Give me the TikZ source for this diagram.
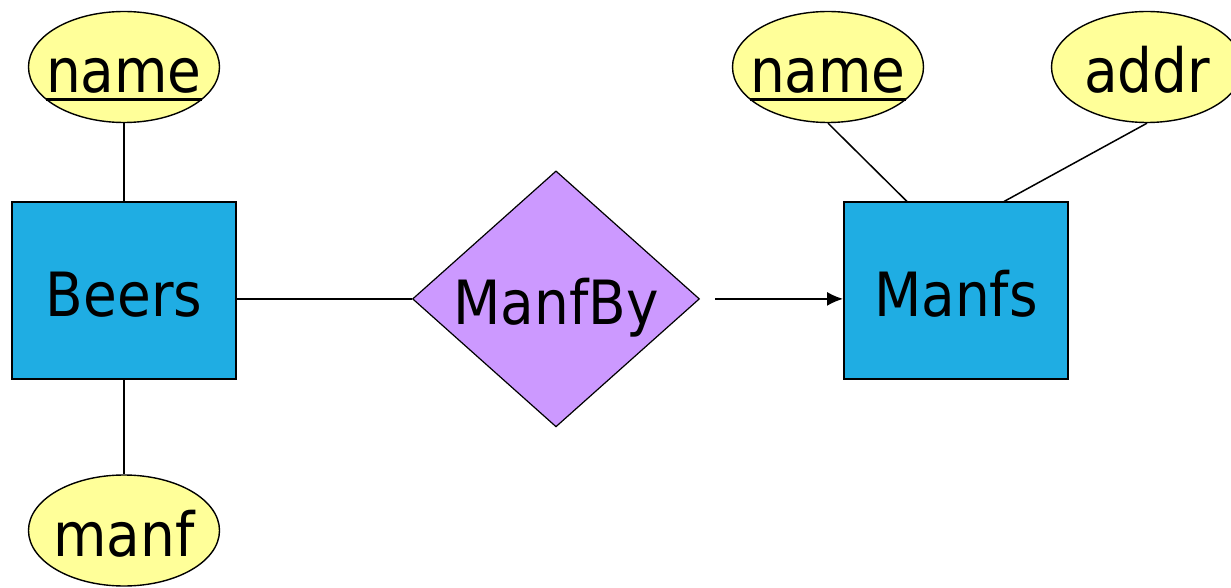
\documentclass[tikz,border=0pt]{standalone}
\usepackage{fontspec}
\setmainfont{DejaVu Sans Condensed}
\usepackage{tikz}
\usetikzlibrary{arrows,arrows.meta,calc,positioning,shapes.geometric}
\definecolor{entblue}{RGB}{31,173,227}
\definecolor{relpurple}{RGB}{204,153,255}
\definecolor{attyellow}{RGB}{255,255,153}
\newcommand{\pkey}[1]{\setbox0\hbox{#1}\rlap{\rule[-4pt]{\wd0}{1.5pt}}\box0}
\tikzstyle{ent}=[draw,line width=1pt,fill=entblue,minimum width=112pt,minimum height=88pt,inner sep=0pt,text height=28pt,text depth=2.3pt,font=\fontsize{30.5}{36}\selectfont]
\tikzstyle{rel}=[draw,diamond,aspect=1.12,line width=0.6pt,fill=relpurple,minimum width=143.5pt,minimum height=128pt,inner sep=0pt,text height=28pt,text depth=2.3pt,font=\fontsize{30.5}{36}\selectfont]
\tikzstyle{att}=[draw,ellipse,line width=0.7pt,fill=attyellow,minimum width=95.5pt,minimum height=55.5pt,inner xsep=-6pt,inner ysep=0pt,text height=28pt,text depth=2.3pt,font=\fontsize{30.5}{36}\selectfont]
\begin{document}
\begin{tikzpicture}[
      >={Latex[length=8pt,width=7pt]},
      line width=0.75pt
    ]
     \useasboundingbox (0,0) rectangle (615.5pt,-294pt);

     \node [ent] (e1) at (62pt,-145.25pt) {Beers};
     \node [rel] (r1) [node distance=216pt,right of=e1,yshift=-4.2pt] {ManfBy};
     \node [ent] (e2) [node distance=416pt,right of=e1] {Manfs};
     \node [att] (a1) [node distance=111.75pt,above of=e1] {\pkey{name}};
     \node [att] (a2) [node distance=120pt,below of=e1] {manf};
     \node [att] (a3) [node distance=352pt,right of=a1] {\pkey{name}};
     \node [att] (a4) [node distance=159.5pt,right of=a3] {addr};

      \draw (a1) -- (e1);
      \draw (e1) -- (a2);
      \draw (r1 -| e1.east) -- (r1.west);
      \draw[->,shorten <=7.5pt] (r1.east) -- (r1 -| e2.west);
      \draw (a3.south) -- ([xshift=-24.5pt]e2.north);
      \draw (a4.south) -- ([xshift=24pt]e2.north);
    \end{tikzpicture}
\end{document}
